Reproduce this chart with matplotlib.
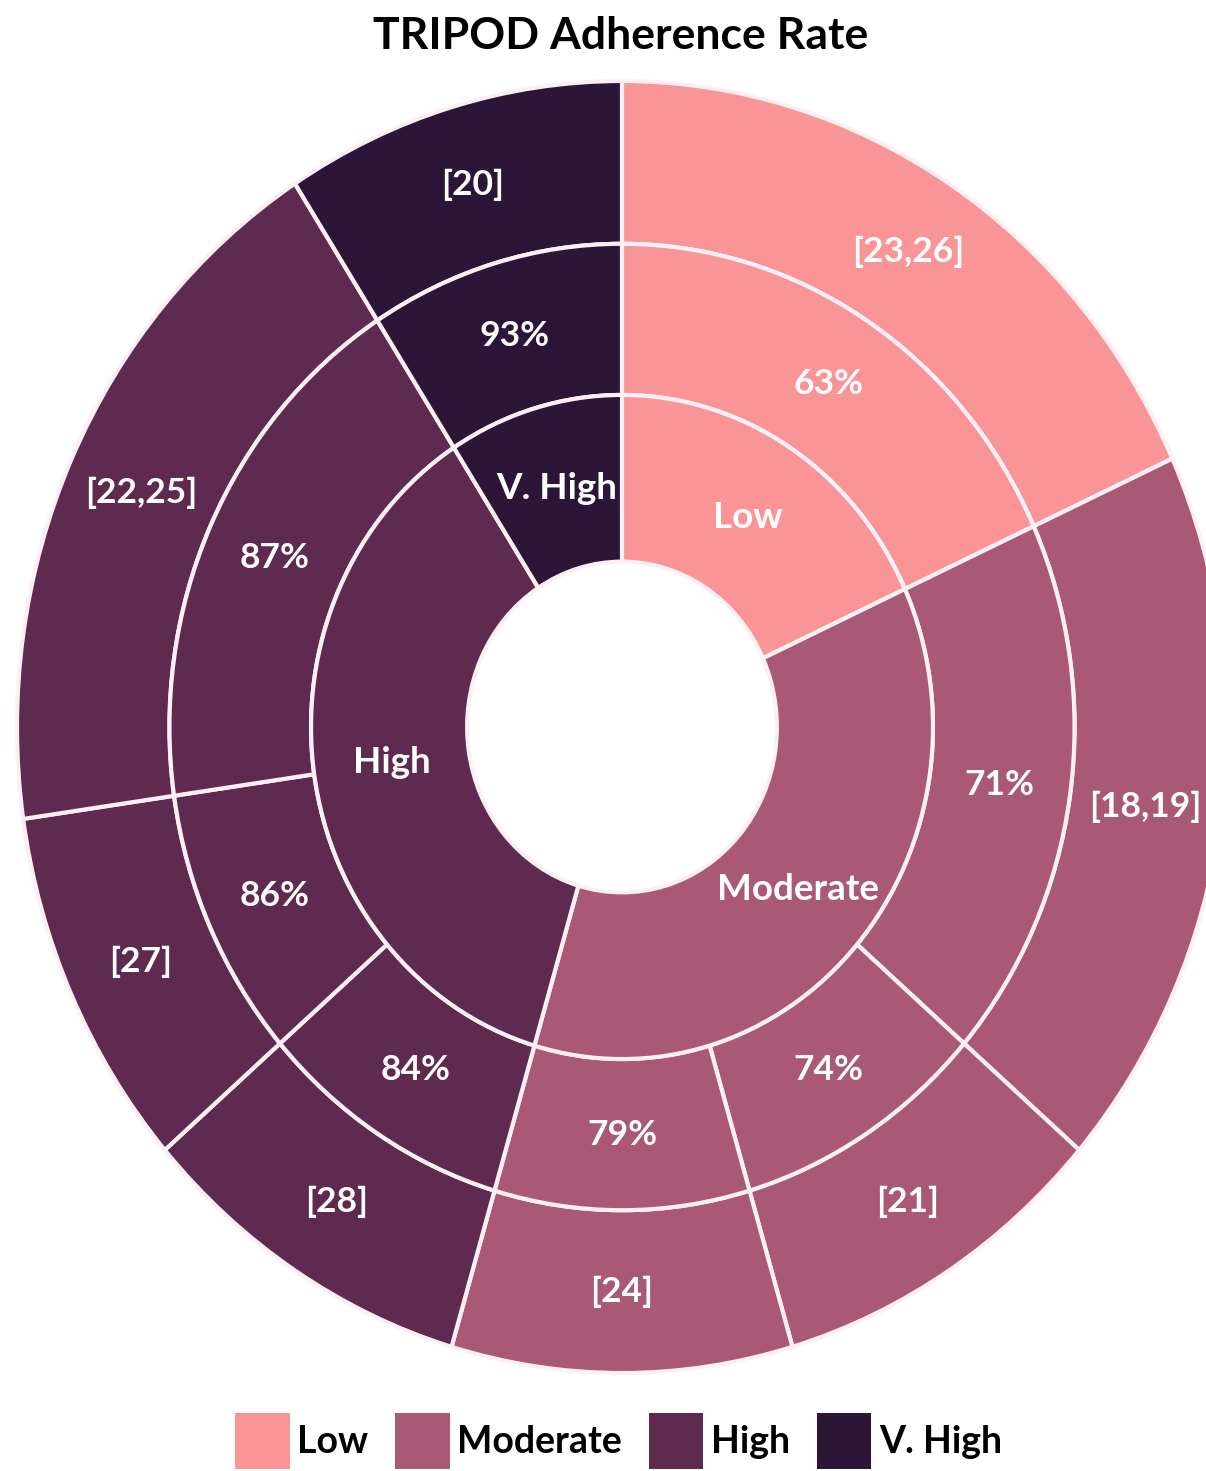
import matplotlib
matplotlib.use("Agg")
import matplotlib.pyplot as plt
from matplotlib.patches import Patch

# ---- data ----
categories = ["Low", "Moderate", "High", "V. High"]
category_counts = [2, 4, 4, 1]
category_colors = ["#F99597", "#A95876", "#5E2A4F", "#2D1537"]

rate_labels = ["63%", "71%", "74%", "79%", "84%", "86%", "87%", "93%"]
rate_counts = [2, 2, 1, 1, 1, 1, 2, 1]
rate_category = [0, 1, 1, 1, 2, 2, 2, 3]

ref_labels = ["[23,26]", "[18,19]", "[21]", "[24]", "[28]", "[27]", "[22,25]", "[20]"]
ref_counts = [2, 2, 1, 1, 1, 1, 2, 1]
ref_category = [0, 1, 1, 1, 2, 2, 2, 3]

title = "TRIPOD Adherence Rate"

# ---- style ----
W, H = 1206, 1471
fig = plt.figure(figsize=(W / 100, H / 100), dpi=100)
ax = fig.add_axes([0, 0, 1, 1])

font = ["Lato", "DejaVu Sans"]
edge = "#FDF0F5"
lw = 3.0

r_hole, r_inner, r_mid, r_outer = 0.256, 0.514, 0.748, 1.0

def ring(counts, labels, colors, r_out, r_in, size):
    lab_d = (r_out + r_in) / 2 / r_out
    wedges, texts = ax.pie(
        counts, labels=labels, radius=r_out, colors=colors,
        startangle=90, counterclock=False, labeldistance=lab_d,
        wedgeprops=dict(width=r_out - r_in, edgecolor=edge, linewidth=lw),
        textprops=dict(color="white", fontsize=size, fontweight="bold",
                       family=font, ha="center", va="center"),
    )
    return wedges, texts

ring(ref_counts, ref_labels, [category_colors[c] for c in ref_category], r_outer, r_mid, 25.5)
ring(rate_counts, rate_labels, [category_colors[c] for c in rate_category], r_mid, r_inner, 25.5)
ring(category_counts, categories, category_colors, r_inner, r_hole, 26.5)

# stretched (non-equal) aspect like the reference
cx, cy = 622, 1471 - 727
rx, ry = 605, 646
ax.set_aspect("auto")
ax.set_xlim(-cx / rx, (W - cx) / rx)
ax.set_ylim(-cy / ry, (H - cy) / ry)
ax.axis("off")

fig.text(0.515, 1 - 36 / H, title, ha="center", va="center",
         fontsize=32, fontweight="bold", family=font, color="black")

handles = [Patch(facecolor=c, edgecolor="none") for c in category_colors]
leg = fig.legend(handles, categories, loc="center", bbox_to_anchor=(0.513, 1 - 1441 / H),
                 ncol=4, frameon=False, handlelength=1.45, handleheight=1.9,
                 handletextpad=0.2, columnspacing=0.72,
                 prop=dict(family=font, weight="bold", size=27))

fig.savefig("out.png", dpi=100, facecolor="white")
